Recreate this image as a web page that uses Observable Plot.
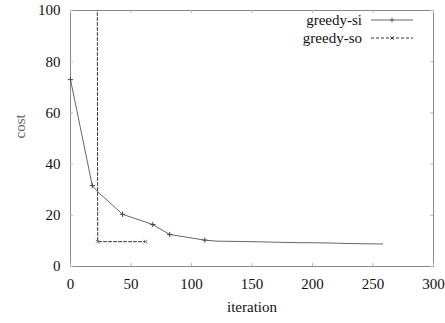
<!DOCTYPE html>
<html><head><meta charset="utf-8">
<script src="https://cdn.jsdelivr.net/npm/d3@7"></script>
<script src="https://cdn.jsdelivr.net/npm/@observablehq/plot@0.6"></script>
<style>
body{margin:0;background:#fff;}
#c{position:relative;width:445px;height:323px;}
</style></head>
<body><div id="c"></div>
<script>
const siX = [0, 18, 23, 43, 68, 82, 111, 121, 150, 168, 188, 198, 212, 220, 240, 258];
const siY = [73, 31.6, 29, 20.4, 16.4, 12.5, 10.3, 9.9, 9.7, 9.5, 9.3, 9.3, 9.2, 9.1, 8.9, 8.8];
const siMarkX = [0, 18, 43, 68, 82, 111];
const soX = [21, 22.5, 62];
const soY = [400, 9.7, 9.7];
const soMarkX = [22.5, 62];
const xTicks = [0, 50, 100, 150, 200, 250, 300];
const yTicks = [0, 20, 40, 60, 80, 100];

const si = siX.map((x, i) => ({x, y: siY[i]}));
const so = soX.map((x, i) => ({x, y: soY[i]}));
const siM = si.filter(d => siMarkX.includes(d.x));
const soM = so.filter(d => soMarkX.includes(d.x));

const FONT = "Liberation Serif";
const plot = Plot.plot({
  width: 445, height: 323,
  marginLeft: 70, marginRight: 12, marginTop: 10, marginBottom: 57,
  style: {fontSize: "15px", fontFamily: FONT, color: "#111", background: "#fff"},
  x: {domain: [0, 300], ticks: xTicks, label: null},
  y: {domain: [0, 100], ticks: yTicks, label: null},
  marks: [
    Plot.frame({stroke: "#888"}),
    Plot.ruleX(xTicks, {y1: 0, y2: 1.2, stroke: "#bbb"}),
    Plot.ruleX(xTicks, {y1: 98.8, y2: 100, stroke: "#bbb"}),
    Plot.ruleY(yTicks, {x1: 0, x2: 2.5, stroke: "#bbb"}),
    Plot.ruleY(yTicks, {x1: 297.5, x2: 300, stroke: "#bbb"}),
    Plot.axisX({ticks: xTicks, tickSize: 0, tickPadding: 12, fontSize: 15, fontFamily: FONT}),
    Plot.axisY({ticks: yTicks, tickSize: 0, tickPadding: 10, fontSize: 15, fontFamily: FONT}),
    Plot.line(si, {x: "x", y: "y", stroke: "#666", strokeWidth: 1, clip: true}),
    Plot.dot(siM, {x: "x", y: "y", symbol: "plus", r: 1.8, stroke: "#444", strokeWidth: 1}),
    Plot.line(so, {x: "x", y: "y", stroke: "#333", strokeWidth: 1, strokeDasharray: "3,2", clip: true}),
    Plot.dot(soM, {x: "x", y: "y", symbol: "times", r: 1.8, stroke: "#777", strokeWidth: 1}),
    Plot.text(["iteration"], {frameAnchor: "bottom", dy: 45, fontSize: 15, fontFamily: FONT, fill: "#111"}),
    Plot.text(["cost"], {frameAnchor: "left", dx: -50, rotate: -90, fontSize: 15, fontFamily: FONT, fill: "#666"})
  ]
});
const c = document.getElementById("c");
c.appendChild(plot);

const legend = [["greedy-si", "#666", null, "plus"], ["greedy-so", "#333", "3,2", "times"]];
const svg = d3.select(plot);
legend.forEach(([name, col, dash, sym], i) => {
  const y = 20 + i * 18;
  svg.append("text").attr("x", 362).attr("y", y).attr("dy", "0.32em").attr("text-anchor", "end")
    .attr("font-size", 15).attr("font-family", FONT).attr("fill", "#111").text(name);
  svg.append("line").attr("x1", 371).attr("x2", 413).attr("y1", y).attr("y2", y)
    .attr("stroke", col).attr("stroke-dasharray", dash);
  svg.append("path").attr("transform", `translate(392,${y})`)
    .attr("d", d3.symbol(sym === "plus" ? d3.symbolPlus : d3.symbolTimes, 8)())
    .attr("fill", "none").attr("stroke", col);
});
</script></body></html>
